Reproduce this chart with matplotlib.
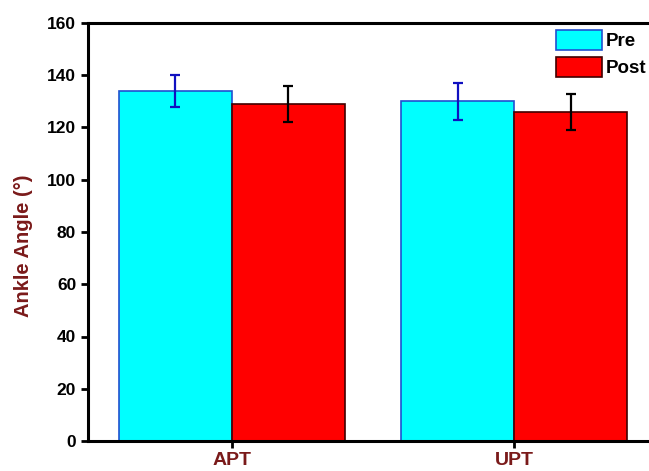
import numpy as np
import matplotlib.pyplot as plt

groups = ["APT", "UPT"]
pre_vals = [134, 130]
pre_err = [6, 7]
post_vals = [129, 126]
post_err = [7, 7]

plt.rcParams['font.family'] = ['Liberation Sans', 'DejaVu Sans']
plt.rcParams['font.weight'] = 'bold'

fig = plt.figure(figsize=(6.49, 4.71), dpi=100)
ax = fig.add_axes([88 / 649, 30 / 471, 570 / 649, 418 / 471])

x = np.arange(len(groups))
w = 0.4
label_red = '#7a1a1a'

ax.bar(x - w / 2, pre_vals, w, color='#00ffff', edgecolor='#2050d0', linewidth=1.2, label='Pre')
ax.bar(x + w / 2, post_vals, w, color='#ff0000', edgecolor='#400000', linewidth=1.2, label='Post')
ax.errorbar(x - w / 2, pre_vals, yerr=pre_err, fmt='none', ecolor='#1010c0',
            elinewidth=1.6, capsize=3.6, capthick=1.6)
ax.errorbar(x + w / 2, post_vals, yerr=post_err, fmt='none', ecolor='black',
            elinewidth=1.6, capsize=3.6, capthick=1.6)

ax.set_xlim(-0.51, 1.51)
ax.set_ylim(0, 160)
ax.set_yticks(np.arange(0, 161, 20))
ax.set_xticks(x)
ax.set_xticklabels(groups, color=label_red, fontsize=14, fontweight='bold')
ax.tick_params(axis='y', labelsize=12.5, width=2, length=5, direction='out')
ax.tick_params(axis='x', width=2, length=5, direction='out', pad=3)
for lab in ax.get_yticklabels():
    lab.set_fontweight('bold')

for s in ax.spines.values():
    s.set_linewidth(2.2)
ax.spines['right'].set_visible(False)

ax.set_ylabel("Ankle Angle (°)", color=label_red, fontsize=14.5, fontweight='bold')
ax.yaxis.set_label_coords(-0.097, 0.467)

leg = ax.legend(loc='upper left', bbox_to_anchor=(547 / 649, 1 - 21 / 471),
                bbox_transform=fig.transFigure, frameon=False, borderpad=0,
                handlelength=2.45, handleheight=1.23, handletextpad=0.2,
                labelspacing=0.35, prop={'weight': 'bold', 'size': 13.5})

fig.savefig("out.png", dpi=100)
